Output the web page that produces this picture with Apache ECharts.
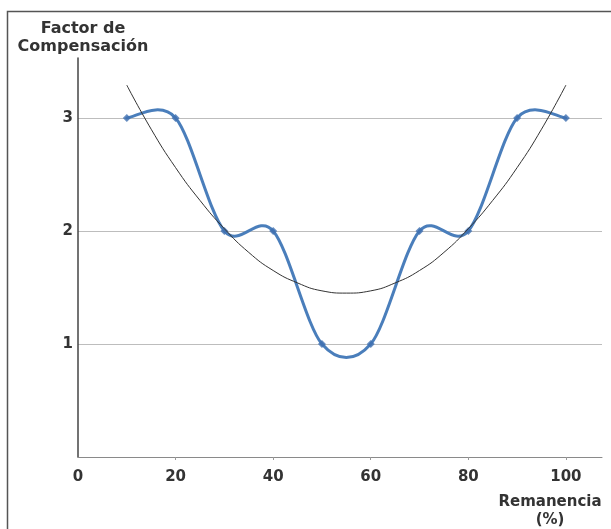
<!DOCTYPE html>
<html><head><meta charset="utf-8">
<script src="https://cdn.jsdelivr.net/npm/echarts@6/dist/echarts.min.js"></script>
<style>html,body{margin:0;padding:0;background:#fff}#c{width:611px;height:529px}</style>
</head><body><div id="c"></div>
<script>
const remanencia = [10, 20, 30, 40, 50, 60, 70, 80, 90, 100];
const factorCompensacion = [3, 3, 2, 2, 1, 1, 2, 2, 3, 3];
const tendenciaX = [10, 15, 20, 25, 30, 35, 40, 45, 50, 55, 60, 65, 70, 75, 80, 85, 90, 95, 100];
const tendenciaY = [3.29, 2.90, 2.56, 2.27, 2.02, 1.81, 1.65, 1.54, 1.47, 1.45, 1.47, 1.54, 1.65, 1.81, 2.02, 2.27, 2.56, 2.90, 3.29];
const xTickLabels = [0, 20, 40, 60, 80, 100];
const yTickLabels = [1, 2, 3];
const xAxisTitle = 'Remanencia\n(%)';
const yAxisTitle = 'Factor de\nCompensación';

const font = { fontFamily: 'DejaVu Sans', fontWeight: 'bold', fontSize: 15, color: '#333' };
const TENSION = 0.16;
const blueData = remanencia.map((x, i) => [x, factorCompensacion[i]]);

// Catmull-Rom style smoothed line through the data, positioned via the axes' scales.
function renderSpline(params, api) {
  const n = blueData.length;
  const i = params.dataIndex;
  if (i >= n - 1) return null;
  const P = k => api.coord(blueData[Math.max(0, Math.min(n - 1, k))]);
  function ctrl(k) {
    const cur = P(k), prev = P(k - 1), next = P(k + 1);
    const vx = next[0] - prev[0], vy = next[1] - prev[1];
    return {
      inX: cur[0] - vx * TENSION, inY: cur[1] - vy * TENSION,
      outX: cur[0] + vx * TENSION, outY: cur[1] + vy * TENSION
    };
  }
  const a = P(i), b = P(i + 1), ca = ctrl(i), cb = ctrl(i + 1);
  return {
    type: 'bezierCurve',
    shape: { x1: a[0], y1: a[1], cpx1: ca.outX, cpy1: ca.outY, cpx2: cb.inX, cpy2: cb.inY, x2: b[0], y2: b[1] },
    style: { fill: null, stroke: '#4a7ebb', lineWidth: 3, lineCap: 'round' }
  };
}

const chart = echarts.init(document.getElementById('c'), null, { renderer: 'canvas' });
chart.setOption({
  animation: false,
  backgroundColor: '#fff',
  graphic: [{
    type: 'rect', silent: true, z: -10,
    shape: { x: 7.5, y: 11.5, width: 700, height: 600 },
    style: { fill: 'none', stroke: '#555', lineWidth: 1.5 }
  }],
  grid: { left: 78, right: 9, top: 58, bottom: 70.5, containLabel: false },
  xAxis: {
    type: 'value', min: 0, max: 107.4, interval: 20,
    name: xAxisTitle, nameLocation: 'end', nameGap: -52, nameMoveOverlap: false,
    nameTextStyle: Object.assign({}, font, { align: 'center', verticalAlign: 'top', lineHeight: 18, padding: [36, 0, 0, 0] }),
    axisLine: { show: true, lineStyle: { color: '#8a8a8a', width: 1 } },
    axisTick: { show: true, length: 3, lineStyle: { color: '#999' }, customValues: xTickLabels.slice(1) },
    axisLabel: Object.assign({}, font, { margin: 13, customValues: xTickLabels }),
    splitLine: { show: false }
  },
  yAxis: {
    type: 'value', min: 0, max: 3.53, interval: 1,
    name: yAxisTitle, nameLocation: 'end', nameGap: 2, nameMoveOverlap: false,
    nameTextStyle: Object.assign({}, font, { fontSize: 16, align: 'center', lineHeight: 18, padding: [0, 0, 0, 10] }),
    axisLine: { show: true, lineStyle: { color: '#444', width: 1.5 } },
    axisTick: { show: false },
    axisLabel: Object.assign({}, font, { margin: 5, customValues: yTickLabels }),
    splitLine: { show: true, showMinLine: false, showMaxLine: false, lineStyle: { color: '#bdbdbd', width: 1 } }
  },
  series: [{
    type: 'custom',
    renderItem: renderSpline,
    data: blueData,
    encode: { x: 0, y: 1 },
    z: 2
  }, {
    type: 'scatter',
    data: blueData,
    symbol: 'diamond', symbolSize: 8,
    itemStyle: { color: '#3f6fb0' },
    z: 3
  }, {
    type: 'line', smooth: true,
    data: tendenciaX.map((x, i) => [x, tendenciaY[i]]),
    symbol: 'none',
    lineStyle: { color: '#333', width: 1 },
    z: 4
  }]
});
</script></body></html>
